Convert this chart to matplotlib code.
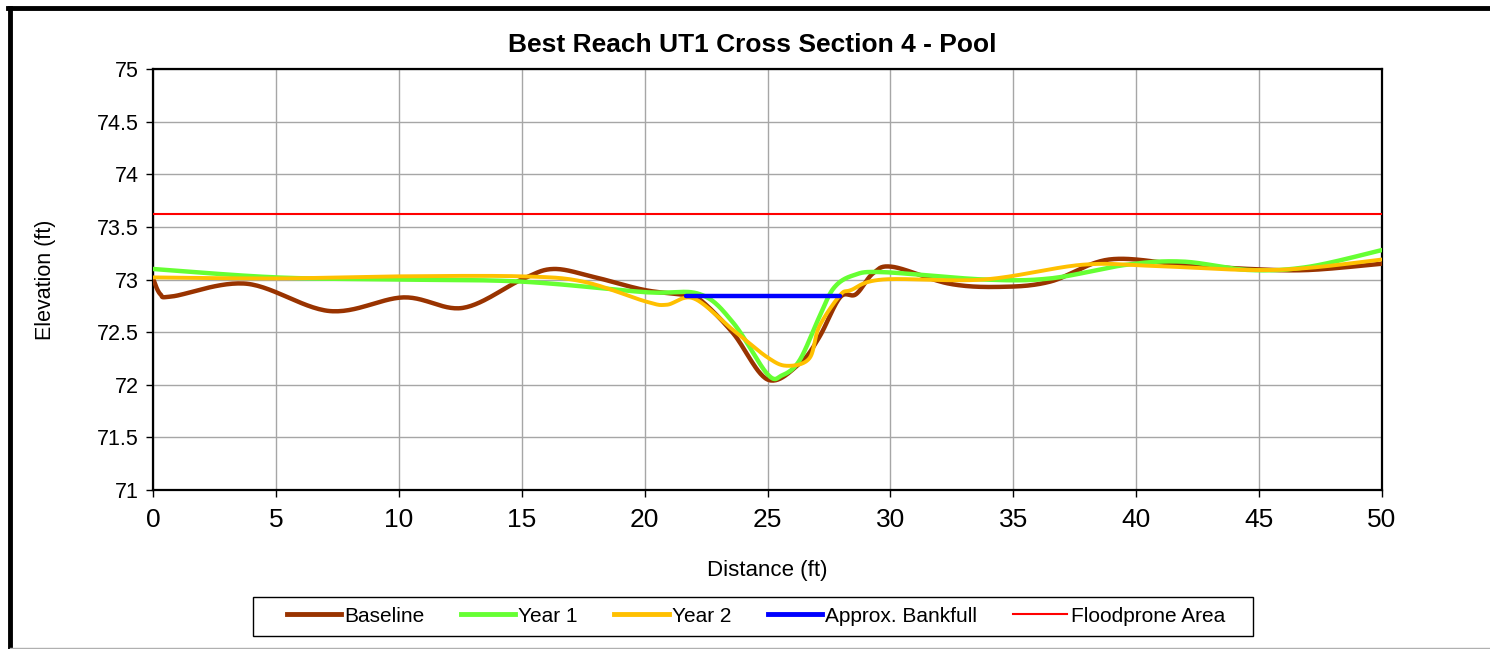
import matplotlib
matplotlib.use("Agg")
import matplotlib.pyplot as plt
from matplotlib.lines import Line2D
from matplotlib.patches import Rectangle
import numpy as np

plt.rcParams['font.family'] = ['Liberation Sans', 'DejaVu Sans']

# survey points (distance ft, elevation ft)
baseline_x = [0, 0.3, 0.8, 3.8, 7.2, 10.2, 12.6, 15.0, 16.3, 18.0, 20.0, 21.7, 22.3,
              23.6, 25.0, 26.3, 27.1, 27.95, 28.6, 29.3, 30.1, 32.4, 34.5, 36.5,
              38.9, 41.9, 44.6, 47.0, 50.0]
baseline_y = [73.01, 72.86, 72.84, 72.96, 72.70, 72.83, 72.73, 73.00, 73.10, 73.02, 72.90,
              72.85, 72.80, 72.49, 72.05, 72.20, 72.45, 72.83, 72.86, 73.06, 73.12,
              72.96, 72.93, 72.98, 73.19, 73.14, 73.10, 73.09, 73.15]

year1_x = [0, 5.0, 10.0, 15.0, 20.0, 22.25, 23.6, 25.0, 25.6, 26.3, 27.1, 27.7, 28.5,
           29.7, 33.8, 36.5, 39.6, 41.9, 44.6, 47.0, 50.0]
year1_y = [73.10, 73.02, 73.00, 72.98, 72.88, 72.86, 72.59, 72.10, 72.09, 72.23, 72.64,
           72.92, 73.04, 73.07, 73.00, 73.01, 73.14, 73.17, 73.09, 73.12, 73.28]

year2_x = [0, 5.0, 10.0, 15.0, 17.5, 20.06, 20.9, 22.0, 23.6, 25.0, 25.8, 26.7, 27.1,
           27.95, 28.4, 29.7, 33.8, 37.8, 40.6, 44.6, 47.0, 50.0]
year2_y = [73.02, 73.01, 73.03, 73.03, 72.98, 72.79, 72.76, 72.82, 72.52, 72.26, 72.18,
           72.25, 72.55, 72.85, 72.90, 73.00, 73.00, 73.14, 73.13, 73.09, 73.11, 73.19]

bankfull_x = [21.7, 27.95]
bankfull_y = [72.84, 72.84]

floodprone_x = [0, 50]
floodprone_y = [73.62, 73.62]


def smooth(xs, ys, n=30):
    # Catmull-Rom through the points, like Excel's smoothed line
    p = np.column_stack([xs, ys]).astype(float)
    p = np.vstack([p[0], p, p[-1]])
    out = []
    t = np.linspace(0, 1, n)[:, None]
    for i in range(1, len(p) - 2):
        p0, p1, p2, p3 = p[i - 1], p[i], p[i + 1], p[i + 2]
        seg = 0.5 * ((2 * p1) + (-p0 + p2) * t + (2 * p0 - 5 * p1 + 4 * p2 - p3) * t ** 2
                     + (-p0 + 3 * p1 - 3 * p2 + p3) * t ** 3)
        out.append(seg if i == 1 else seg[1:])
    out = np.vstack(out)
    return out[:, 0], out[:, 1]


W, H = 1490, 649
fig = plt.figure(figsize=(W / 100, H / 100), dpi=100)
ax = fig.add_axes([153 / W, 1 - 490 / H, (1382 - 153) / W, (490 - 69) / H])

ax.plot(*smooth(baseline_x, baseline_y), color='#993300', lw=3.2, solid_capstyle='round', zorder=3)
ax.plot(*smooth(year1_x, year1_y), color='#66ff33', lw=3.2, solid_capstyle='round', zorder=4)
ax.plot(*smooth(year2_x, year2_y), color='#ffc000', lw=2.8, solid_capstyle='round', zorder=5)
ax.plot(bankfull_x, bankfull_y, color='#0000ff', lw=3.2, solid_capstyle='round', zorder=6)
ax.plot(floodprone_x, floodprone_y, color='#ff0000', lw=1.5, zorder=6)

ax.set_xlim(0, 50)
ax.set_ylim(71, 75)
ax.set_xticks(np.arange(0, 51, 5))
ax.set_yticks(np.arange(71, 75.01, 0.5))
ax.set_yticklabels(['71', '71.5', '72', '72.5', '73', '73.5', '74', '74.5', '75'])
ax.grid(True, color='#a6a6a6', lw=1.0)
ax.set_axisbelow(True)
for s in ax.spines.values():
    s.set_color('black')
    s.set_linewidth(1.6)
ax.tick_params(axis='y', labelsize=15.5, length=5, width=1, direction='out', pad=5)
ax.tick_params(axis='x', labelsize=19, length=5, width=1, direction='out', pad=8)

fig.text(752 / W, 1 - 45 / H, 'Best Reach UT1 Cross Section 4 - Pool', fontsize=19,
         fontweight='bold', ha='center', va='center')
ax.set_xlabel('Distance (ft)', fontsize=16, labelpad=20)
ax.set_ylabel('Elevation (ft)', fontsize=15.5, labelpad=30)

handles = [Line2D([], [], color='#993300', lw=3.5),
           Line2D([], [], color='#66ff33', lw=3.5),
           Line2D([], [], color='#ffc000', lw=3.5),
           Line2D([], [], color='#0000ff', lw=3.5),
           Line2D([], [], color='#ff0000', lw=1.5)]
labels = ['Baseline', 'Year 1', 'Year 2', 'Approx. Bankfull', 'Floodprone Area']
leg = fig.legend(handles, labels, loc='center', bbox_to_anchor=(756 / W, 1 - 616 / H),
                 ncol=5, fontsize=15, frameon=False,
                 handlelength=2.6, handletextpad=0.15, columnspacing=1.75)
fig.add_artist(Rectangle((253 / W, 1 - 636 / H), 1000 / W, 39 / H, fill=False,
                         edgecolor='black', lw=1.0, transform=fig.transFigure))

# outer chart frame (cropped at right and bottom)
fig.add_artist(Line2D([9.5 / W, 9.5 / W], [1 - 7.5 / H, 0], color='black', lw=3.5,
                      transform=fig.transFigure))
fig.add_artist(Line2D([8 / W, 1], [1 - 7.5 / H, 1 - 7.5 / H], color='black', lw=3.5,
                      transform=fig.transFigure))
fig.add_artist(Line2D([9.5 / W, 1], [1.5 / H, 1.5 / H], color='#b0b0b0', lw=1,
                      transform=fig.transFigure))

fig.savefig('out.png', dpi=100)
